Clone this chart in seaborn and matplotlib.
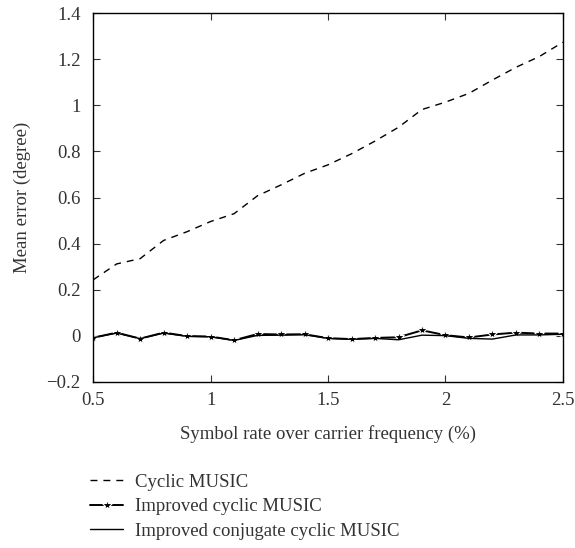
import seaborn as sns
import matplotlib.pyplot as plt
import pandas as pd

# Data
rate = [0.5, 0.6, 0.7, 0.8, 0.9, 1.0, 1.1, 1.2, 1.3, 1.4, 1.5,
        1.6, 1.7, 1.8, 1.9, 2.0, 2.1, 2.2, 2.3, 2.4, 2.5]
cyclic_music = [0.243, 0.312, 0.335, 0.414, 0.452, 0.496, 0.530, 0.608, 0.655, 0.705, 0.742,
                0.790, 0.845, 0.905, 0.982, 1.014, 1.052, 1.110, 1.165, 1.212, 1.274]
improved_cyclic = [-0.008, 0.014, -0.012, 0.014, -0.001, -0.003, -0.019, 0.008, 0.006, 0.007, -0.010,
                   -0.014, -0.009, -0.006, 0.024, 0.003, -0.007, 0.006, 0.014, 0.010, 0.010]
improved_conjugate = [-0.008, 0.012, -0.012, 0.012, -0.002, -0.004, -0.020, 0.002, 0.003, 0.005, -0.011,
                      -0.015, -0.011, -0.017, 0.003, 0.001, -0.011, -0.014, 0.004, 0.004, 0.007]

df = pd.DataFrame({
    "rate": rate,
    "Cyclic MUSIC": cyclic_music,
    "Improved cyclic MUSIC": improved_cyclic,
    "Improved conjugate cyclic MUSIC": improved_conjugate,
})

sns.set_theme(style="ticks")
plt.rcParams["font.family"] = ["Liberation Serif", "DejaVu Serif"]
plt.rcParams["text.color"] = "#333333"
plt.rcParams["axes.labelcolor"] = "#333333"
plt.rcParams["xtick.color"] = "#333333"
plt.rcParams["ytick.color"] = "#333333"

fig = plt.figure(figsize=(5.75, 5.48), dpi=100)
ax = fig.add_axes([0.162, 0.303, 0.817, 0.673])

sns.lineplot(data=df, x="rate", y="Cyclic MUSIC", ax=ax, color="black",
             linestyle=(0, (5, 4.3)), linewidth=1.0, label="Cyclic MUSIC")
sns.lineplot(data=df, x="rate", y="Improved cyclic MUSIC", ax=ax, color="black",
             marker="*", markersize=8, markeredgewidth=0.8, linewidth=1.4,
             label="Improved cyclic MUSIC")
sns.lineplot(data=df, x="rate", y="Improved conjugate cyclic MUSIC", ax=ax, color="black",
             linewidth=1.0, label="Improved conjugate cyclic MUSIC")

ax.set_xlim(0.5, 2.5)
ax.set_ylim(-0.2, 1.4)
ax.set_xticks([0.5, 1, 1.5, 2, 2.5])
ax.set_xticklabels(["0.5", "1", "1.5", "2", "2.5"])
ax.set_yticks([-0.2, 0, 0.2, 0.4, 0.6, 0.8, 1, 1.2, 1.4])
ax.set_yticklabels(["\u22120.2", "0", "0.2", "0.4", "0.6", "0.8", "1", "1.2", "1.4"])
ax.tick_params(direction="in", top=True, right=True, length=5, labelsize=13.5, width=0.8)
ax.tick_params(axis="x", pad=7)
ax.tick_params(axis="y", pad=9)
for s in ax.spines.values():
    s.set_linewidth(1.0)
    s.set_color("black")

ax.set_xlabel("Symbol rate over carrier frequency (%)", fontsize=13.5, labelpad=12)
ax.set_ylabel("Mean error (degree)", fontsize=13.5, labelpad=11)

ax.legend(loc="upper left", bbox_to_anchor=(-0.022, -0.228), frameon=False,
          fontsize=13.5, handlelength=1.76, handletextpad=0.64, labelspacing=0.4,
          borderaxespad=0)

fig.savefig("out.png", dpi=100)
